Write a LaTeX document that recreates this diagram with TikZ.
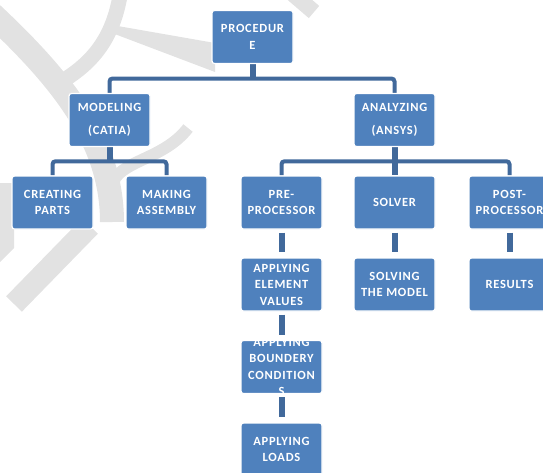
\documentclass[tikz,border=0pt]{standalone}
\usepackage{fontspec}
\setmainfont{Carlito}
\newfontfamily\boxfont[LetterSpace=6]{Carlito}
\usetikzlibrary{calc,backgrounds}
\definecolor{boxblue}{HTML}{4F81BD}
\definecolor{linkblue}{HTML}{41699B}
\definecolor{wm}{HTML}{E2E2E2}
\begin{document}
\begin{tikzpicture}[x=1pt,y=-1pt,
  boxfontstyle/.style={font=\boxfont\bfseries\fontsize{12.5}{16.5}\selectfont},
  box/.style={rectangle, rounded corners=2.5pt, fill=boxblue, draw=white, line width=1.2pt,
    minimum width=81pt, minimum height=53pt, inner sep=0pt, text=white, boxfontstyle, align=center},
  boxtext/.style={inner sep=0pt, text=white, boxfontstyle, align=center},
  link/.style={draw=linkblue, line width=4pt, rounded corners=3pt},
  stub/.style={draw=linkblue, line width=6pt},
  wmark/.style={draw=wm, line cap=butt}]
\useasboundingbox (0,0) rectangle (543,472);
\clip (0,0) rectangle (543,472);

% boxes
\node[box] (proc) at (252.5,37) {PROCEDUR\\E};
\node[box] (model) at (109.5,120) {MODELING\\[7pt](CATIA)};
\node[box] (anal) at (394.5,120) {ANALYZING\\[7pt](ANSYS)};
\node[box] (create) at (52.5,202.5) {CREATING\\PARTS};
\node[box] (make) at (166.5,202.5) {MAKING\\ASSEMBLY};
\node[box] (pre) at (281.5,202.5) {PRE-\\PROCESSOR};
\node[box] (solver) at (394.5,202.5) {SOLVER};
\node[box] (post) at (509.5,202.5) {POST-\\PROCESSOR};
\node[box] (elem) at (281.5,284.5) {APPLYING\\ELEMENT\\VALUES};
\node[box] (solve) at (394.5,284.5) {SOLVING\\THE MODEL};
\node[box] (res) at (509.5,284.5) {RESULTS};
\node[box] (bc) at (281.5,367) {};
\node[boxtext] (bctext) at (bc) {APPLYING\\BOUNDERY\\CONDITION\\S};
\node[box] (loads) at (281.5,449.5) {APPLYING\\LOADS};

\begin{scope}[on background layer]
  % watermark
  \draw[wmark, line width=24pt] (-8,14) .. controls (60,78) and (112,140) .. (112,222);
  \draw[wmark, line width=15pt] (120,-4) .. controls (113,35) and (96,60) .. (64,80);
  \fill[wm] (112,25) -- (215,43) -- (215,72) -- (112,33) -- cycle;
  \draw[wmark, line width=16pt] (293,-6) -- (314,12);
  \draw[wmark, line width=12pt] (188,128) .. controls (165,158) and (125,160) .. (114,180);
  \draw[wmark, line width=22pt] (90,226) -- (14,304);
  \fill[wm] (0,183) -- (14,183) -- (14,248) -- (0,262) -- cycle;

  % connectors
  \coordinate (b0) at ($(proc.south)!0.5!(proc.south |- model.north)$);
  \draw[link] (model.north) |- (b0) -| (anal.north);
  \draw[stub] (proc.south) -- (b0);

  \coordinate (b1) at ($(model.south)!0.5!(model.south |- create.north)$);
  \draw[link] (create.north) |- (b1) -| (make.north);
  \draw[stub] (model.south) -- (b1);

  \coordinate (b2) at ($(anal.south)!0.5!(anal.south |- pre.north)$);
  \draw[link] (pre.north) |- (b2) -| (post.north);
  \draw[stub] (anal.south) -- (solver.north);

  \draw[stub, shorten <=3pt, shorten >=5pt] (pre.south) -- (elem.north);
  \draw[stub, shorten <=3pt, shorten >=5pt] (solver.south) -- (solve.north);
  \draw[stub, shorten <=3pt, shorten >=5pt] (post.south) -- (res.north);
  \draw[stub, shorten <=3pt, shorten >=5pt] (elem.south) -- (bc.north);
  \draw[stub, shorten <=3pt, shorten >=5pt] (bc.south) -- (loads.north);
\end{scope}
\end{tikzpicture}
\end{document}
